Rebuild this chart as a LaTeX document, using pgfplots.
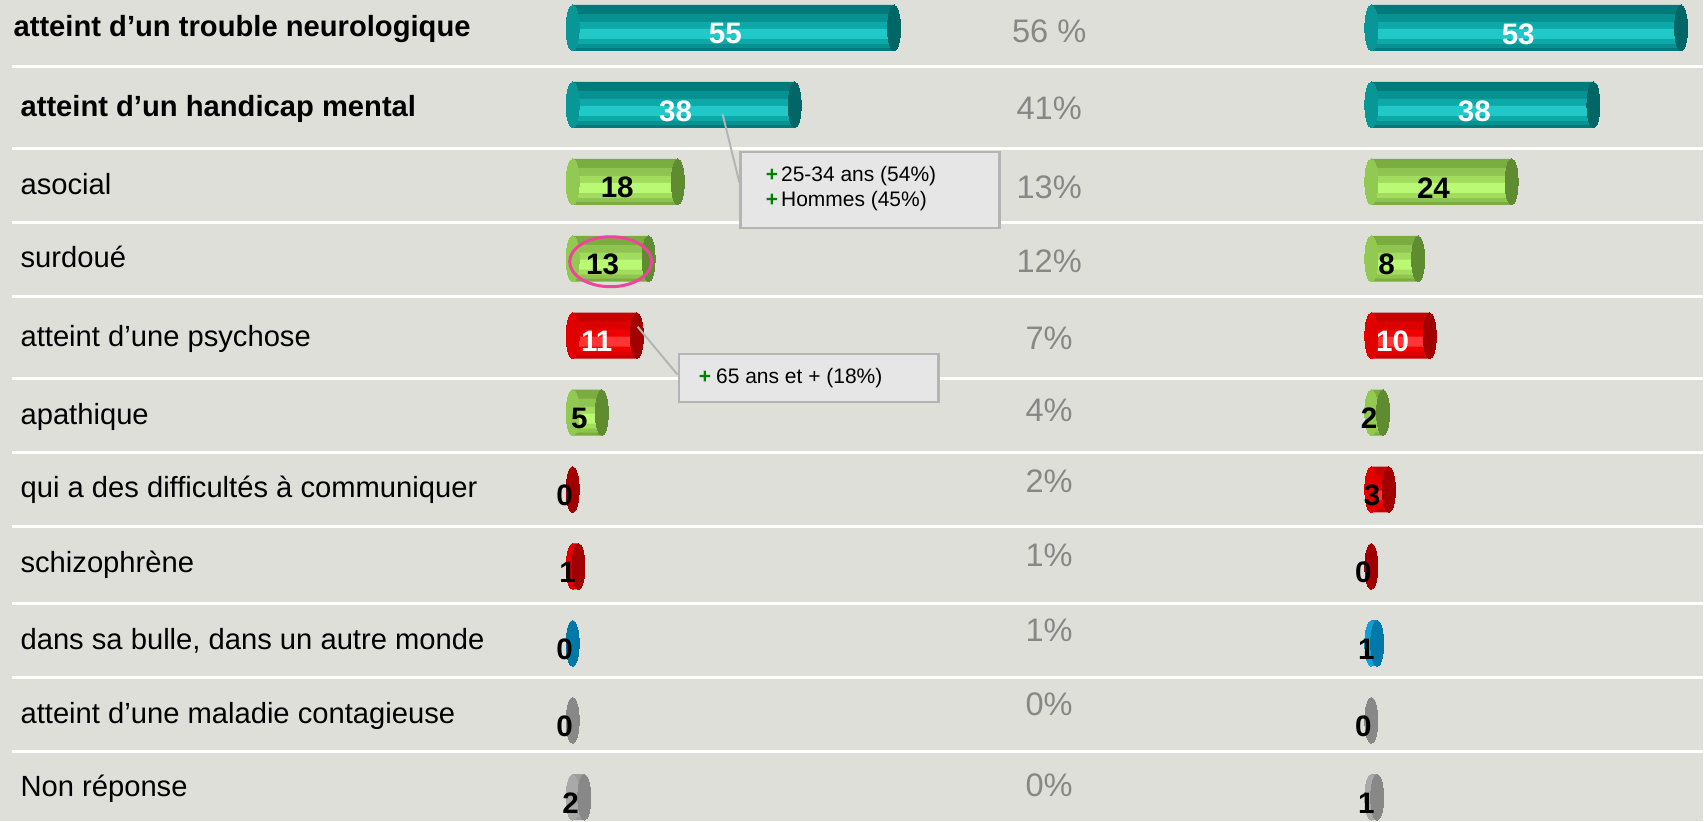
\documentclass[border=0pt]{standalone}
\usepackage{fontspec}
\setmainfont{Liberation Sans}
\usepackage{pgfplots}
\usepackage{pgfplotstable}
\pgfplotsset{compat=1.18}

\definecolor{bgc}{HTML}{DFDFDA}
\definecolor{pctgray}{HTML}{878787}
\definecolor{boxfill}{HTML}{E6E6E6}
\definecolor{boxline}{HTML}{B4B4B4}
\definecolor{plusgreen}{HTML}{008000}
\definecolor{ringpink}{HTML}{F0449C}
% cylinder colours: dark / mid / light / cap
\definecolor{tealD}{HTML}{007A7A}\definecolor{tealM}{HTML}{0DA9A9}\definecolor{tealL}{HTML}{20C8C8}\definecolor{tealC}{HTML}{006666}
\definecolor{grnD}{HTML}{7AAC40}\definecolor{grnM}{HTML}{A2DC5E}\definecolor{grnL}{HTML}{BAF974}\definecolor{grnC}{HTML}{5F8C30}
\definecolor{redD}{HTML}{C80000}\definecolor{redM}{HTML}{F00000}\definecolor{redL}{HTML}{FF3434}\definecolor{redC}{HTML}{A20000}
\definecolor{bluD}{HTML}{0D8CC0}\definecolor{bluM}{HTML}{18A8E0}\definecolor{bluL}{HTML}{34C2F2}\definecolor{bluC}{HTML}{0078A8}
\definecolor{gryD}{HTML}{9C9C9C}\definecolor{gryM}{HTML}{B2B2B2}\definecolor{gryL}{HTML}{C6C6C6}\definecolor{gryC}{HTML}{888888}

% y = row centre (px from top), v = value, g = colour group, w = white label
\pgfplotstableread{
y   v  g w
28  55 1 1
105 38 1 1
182 18 2 0
259 13 2 0
336 11 3 1
413 5  2 0
490 0  3 0
567 1  3 0
644 0  4 0
721 0  5 0
798 2  5 0
}\tabL
\pgfplotstableread{
y   v  g w
28  53 1 1
105 38 1 1
182 24 2 0
259 8  2 0
336 10 3 1
413 2  2 0
490 3  3 0
567 0  3 0
644 1  4 0
721 0  5 0
798 1  5 0
}\tabR

\newcommand{\cylinders}[6]{%
  \addplot[only marks, mark=*, mark size=11.5pt,
    mark options={xscale=0.283, line width=0pt, draw=#3!40!#4, fill=#3!40!#4},
    restrict expr to domain={\thisrow{g}}{#2:#2}] table[x expr=0, y=y] {#1};
  \addplot[xbar, bar width=23pt, bar shift=0pt, draw=none, fill=#3,
    restrict expr to domain={\thisrow{g}}{#2:#2}] table[x=v, y=y] {#1};
  \addplot[xbar, bar width=17pt, bar shift=-1.5pt, draw=none, fill=#3!50!#4,
    restrict expr to domain={\thisrow{g}}{#2:#2}] table[x=v, y=y] {#1};
  \addplot[xbar, bar width=11pt, bar shift=-2.5pt, draw=none, fill=#4,
    restrict expr to domain={\thisrow{g}}{#2:#2}] table[x=v, y=y] {#1};
  \addplot[xbar, bar width=5pt, bar shift=-3pt, draw=none, fill=#5,
    restrict expr to domain={\thisrow{g}}{#2:#2}] table[x=v, y=y] {#1};
  \addplot[only marks, mark=*, mark size=11.5pt,
    mark options={xscale=0.283, line width=0pt, draw=#6, fill=#6},
    restrict expr to domain={\thisrow{g}}{#2:#2}] table[x=v, y=y] {#1};
}
\newcommand{\valfont}{\bfseries\fontsize{14.8}{16}\selectfont}
\newcommand{\values}[1]{%
  \addplot[only marks, draw=none, mark=*, mark size=0pt, mark options={draw=none, fill=none},
    point meta=explicit symbolic, nodes near coords,
    every node near coord/.append style={anchor=center, inner sep=0pt, text=white, font=\valfont},
    restrict expr to domain={\thisrow{w}}{1:1}]
    table[x expr=\thisrow{v}/2-1.37, y expr=\thisrow{y}+6, meta=v] {#1};
  \addplot[only marks, draw=none, mark=*, mark size=0pt, mark options={draw=none, fill=none},
    point meta=explicit symbolic, nodes near coords,
    every node near coord/.append style={anchor=center, inner sep=0pt, text=black, font=\valfont},
    restrict expr to domain={\thisrow{w}}{0:0}]
    table[x expr=\thisrow{v}/2-1.37, y expr=\thisrow{y}+6, meta=v] {#1};
}
\pgfplotsset{
  pixaxis/.style={anchor=south west, x=0.5pt, y=0.5pt, y dir=reverse,
    xmin=0, xmax=1704, ymin=0, ymax=822, clip=false},
  baraxis/.style={anchor=south west, x=2.925pt, y=0.5pt, y dir=reverse,
    xmin=0, xmax=56, ymin=0, ymax=822, clip=false,
    axis line style={draw=none}, xtick=\empty, major tick length=0pt},
}

\begin{document}
\begin{tikzpicture}
% background, separators and category names
\begin{axis}[pixaxis, at={(0pt,0pt)},
    axis line style={draw=none},
    axis background/.style={fill=bgc},
    xtick=\empty, major tick length=0pt,
    ytick={37,117,195,268,347,425,498,573,650,724,797},
    yticklabels={
      {\bfseries\hspace*{-3.5pt}atteint d’un trouble neurologique},
      {\bfseries atteint d’un handicap mental},
      asocial, surdoué, atteint d’une psychose, apathique,
      qui a des difficultés à communiquer, schizophrène,
      {dans sa bulle, dans un autre monde},
      atteint d’une maladie contagieuse, Non réponse},
    yticklabel style={anchor=base west, inner sep=0pt, xshift=10pt,
      font=\fontsize{14.6}{17}\selectfont, text=black},
    unbounded coords=jump,
  ]
  \addplot[white, line width=1.5pt] table {
    x y
    12 67
    1704 67
    nan nan
    12 149
    1704 149
    nan nan
    12 223
    1704 223
    nan nan
    12 297
    1704 297
    nan nan
    12 379
    1704 379
    nan nan
    12 453
    1704 453
    nan nan
    12 527
    1704 527
    nan nan
    12 604
    1704 604
    nan nan
    12 678
    1704 678
    nan nan
    12 752
    1704 752
  };
\end{axis}

% first set of cylinders
\begin{axis}[baraxis, at={(286.5pt,0pt)}, ytick=\empty]
  \cylinders{\tabL}{1}{tealD}{tealM}{tealL}{tealC}
  \cylinders{\tabL}{2}{grnD}{grnM}{grnL}{grnC}
  \cylinders{\tabL}{3}{redD}{redM}{redL}{redC}
  \cylinders{\tabL}{4}{bluD}{bluM}{bluL}{bluC}
  \cylinders{\tabL}{5}{gryD}{gryM}{gryL}{gryC}
  \values{\tabL}
\end{axis}

% second set of cylinders, percentages as tick labels
\begin{axis}[baraxis, at={(686.25pt,0pt)},
    ytick={43,120,199,273,350,422,493,567,642,716,797},
    yticklabels={56 \%, 41\%, 13\%, 12\%, 7\%, 4\%, 2\%, 1\%, 1\%, 0\%, 0\%},
    yticklabel style={anchor=base, inner sep=0pt, xshift=-161.25pt,
      font=\fontsize{16.3}{18}\selectfont, text=pctgray},
  ]
  \cylinders{\tabR}{1}{tealD}{tealM}{tealL}{tealC}
  \cylinders{\tabR}{2}{grnD}{grnM}{grnL}{grnC}
  \cylinders{\tabR}{3}{redD}{redM}{redL}{redC}
  \cylinders{\tabR}{4}{bluD}{bluM}{bluL}{bluC}
  \cylinders{\tabR}{5}{gryD}{gryM}{gryL}{gryC}
  \values{\tabR}
\end{axis}

% call-outs and highlight ring
\begin{axis}[pixaxis, at={(0pt,0pt)}, hide axis]
  \addplot[boxline, line width=1pt] coordinates {(723,114) (740,183)};
  \addplot[boxline, line width=1pt] coordinates {(638,327) (678,375)};
  \node[draw=boxline, fill=boxfill, line width=1.2pt, anchor=north west,
        inner sep=0pt, minimum width=129.5pt, minimum height=38pt]
        at (axis cs:740,151) {};
  \node[draw=boxline, fill=boxfill, line width=1.2pt, anchor=north west,
        inner sep=0pt, minimum width=130pt, minimum height=24pt]
        at (axis cs:678,353) {};
  \node[anchor=base west, inner sep=0pt, font=\fontsize{10.5}{12}\selectfont]
        at (axis cs:766,182) {\textcolor{plusgreen}{\textbf{+}}\hspace{1.5pt}25-34 ans (54\%)};
  \node[anchor=base west, inner sep=0pt, font=\fontsize{10.5}{12}\selectfont]
        at (axis cs:766,207) {\textcolor{plusgreen}{\textbf{+}}\hspace{1.5pt}Hommes (45\%)};
  \node[anchor=base west, inner sep=0pt, font=\fontsize{10.5}{12}\selectfont]
        at (axis cs:699,384) {\textcolor{plusgreen}{\textbf{+}}\hspace{2.5pt}65 ans et + (18\%)};
  \addplot[only marks, mark=o, mark size=12.5pt,
    mark options={xscale=1.64, draw=ringpink, line width=1.5pt}]
    coordinates {(611,262)};
\end{axis}
\end{tikzpicture}
\end{document}
